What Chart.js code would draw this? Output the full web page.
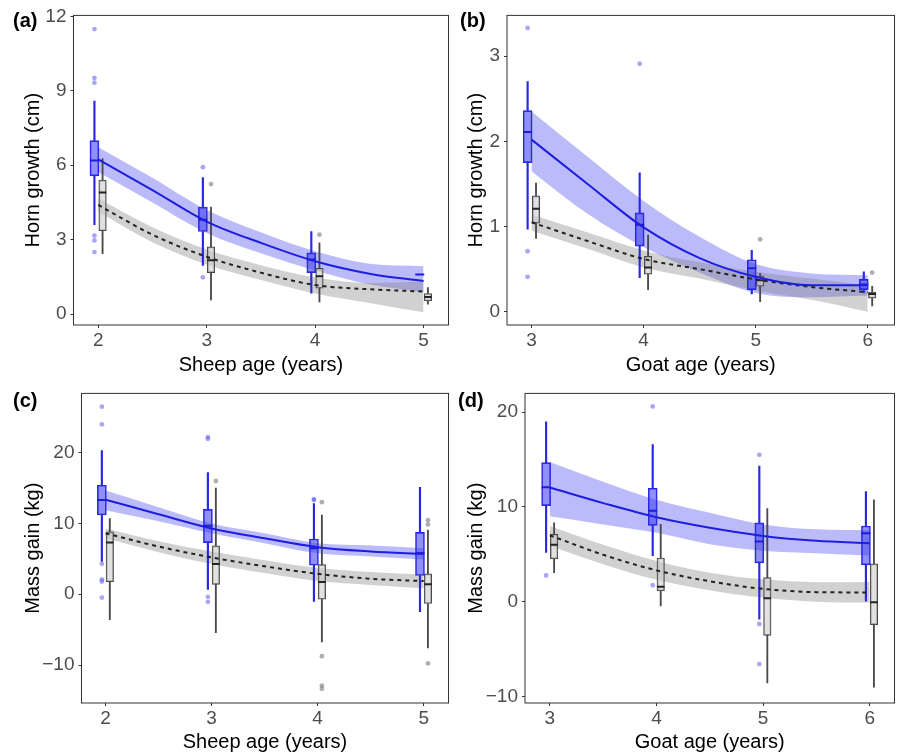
<!DOCTYPE html>
<html>
<head>
<meta charset="utf-8">
<script src="https://cdn.jsdelivr.net/npm/chart.js@4.4.1/dist/chart.umd.min.js"></script>
<style>
  html, body { margin: 0; padding: 0; background: #fff; }
  #wrap { position: relative; width: 901px; height: 754px; }
  canvas { position: absolute; }
</style>
</head>
<body>
<div id="wrap">
  <canvas id="pa" width="455" height="378" style="left:0;top:0"></canvas>
  <canvas id="pb" width="446" height="378" style="left:455px;top:0"></canvas>
  <canvas id="pc" width="455" height="376" style="left:0;top:378px"></canvas>
  <canvas id="pd" width="446" height="376" style="left:455px;top:378px"></canvas>
</div>
<script>
// ages on the x axes and the x values where the fitted curves were read
var sheepAge = [2, 3, 4, 5];
var goatAge = [3, 4, 5, 6];
var sheepFitX = [2, 2.5, 3, 3.5, 4, 4.5, 5];
var goatFitX = [3, 3.5, 4, 4.5, 5, 5.5, 6];

// y tick values
var hornSheepTicks = [0, 3, 6, 9, 12];
var hornGoatTicks = [0, 1, 2, 3];
var massTicks = [-10, 0, 10, 20];

// box rows: [whisker low, q1, median, q3, whisker high], one per age
// (a) horn growth, sheep
var hornSheepBlueBox = [[3.6, 5.57, 6.19, 6.99, 8.59], [1.96, 3.33, 3.8, 4.31, 5.5], [0.84, 1.67, 2.2, 2.47, 3.33], [1.6, 1.6, 1.6, 1.6, 1.6]];
var hornSheepGreyBox = [[2.44, 3.36, 4.9, 5.4, 6.27], [0.57, 1.67, 2.17, 2.71, 4.31], [0.49, 1.04, 1.53, 1.84, 2.87], [0.4, 0.53, 0.69, 0.83, 1.07]];
var hornSheepBlueOut = [[2, 11.49], [2, 9.52], [2, 9.33], [2, 3.16], [2, 2.97], [2, 2.5], [3, 5.92], [3, 1.48]];
var hornSheepGreyOut = [[3, 5.24], [4, 3.2]];
var hornSheepBlueFit = [6.24, 5.0, 3.73, 2.87, 2.13, 1.63, 1.33];
var hornSheepBlueUpper = [6.73, 5.5, 4.2, 3.3, 2.53, 2.03, 1.93];
var hornSheepBlueLower = [5.73, 4.5, 3.27, 2.45, 1.76, 1.2, 0.88];
var hornSheepGreyFit = [4.4, 3.2, 2.31, 1.67, 1.17, 1.0, 0.91];
var hornSheepGreyUpper = [4.67, 3.5, 2.6, 1.97, 1.47, 1.25, 1.3];
var hornSheepGreyLower = [4.13, 2.9, 2.0, 1.37, 0.83, 0.45, 0.07];

// (b) horn growth, goats
var hornGoatBlueBox = [[0.97, 1.75, 2.11, 2.36, 2.7], [0.4, 0.77, 1.02, 1.16, 1.63], [0.21, 0.26, 0.51, 0.61, 0.72], [0.22, 0.26, 0.32, 0.38, 0.47]];
var hornGoatGreyBox = [[0.86, 1.04, 1.21, 1.36, 1.51], [0.26, 0.44, 0.52, 0.65, 0.9], [0.12, 0.3, 0.37, 0.42, 0.45], [0.07, 0.16, 0.21, 0.23, 0.3]];
var hornGoatBlueOut = [[3, 3.33], [3, 0.71], [3, 0.41], [4, 2.91]];
var hornGoatGreyOut = [[5, 0.85], [6, 0.46]];
var hornGoatBlueFit = [2.02, 1.5, 0.99, 0.63, 0.41, 0.31, 0.31];
var hornGoatBlueUpper = [2.35, 1.82, 1.3, 0.88, 0.56, 0.45, 0.43];
var hornGoatBlueLower = [1.65, 1.15, 0.76, 0.46, 0.22, 0.17, 0.19];
var hornGoatGreyFit = [1.05, 0.83, 0.62, 0.5, 0.38, 0.29, 0.23];
var hornGoatGreyUpper = [1.14, 0.93, 0.72, 0.58, 0.47, 0.39, 0.31];
var hornGoatGreyLower = [0.95, 0.74, 0.52, 0.39, 0.25, 0.14, 0.0];

// (c) mass gain, sheep
var massSheepBlueBox = [[4.65, 11.2, 13.3, 15.4, 20.3], [0.7, 7.3, 9.67, 12.0, 17.2], [-1.0, 4.1, 6.5, 7.8, 12.8], [-2.47, 2.65, 5.81, 8.74, 15.1]];
var massSheepGreyBox = [[-3.6, 1.77, 7.3, 8.8, 10.7], [-5.44, 1.4, 4.28, 6.84, 15.0], [-6.74, -0.7, 1.72, 4.19, 11.2], [-7.58, -1.3, 1.4, 2.88, 9.07]];
var massSheepBlueOut = [[2, 26.5], [2, 24.0], [2, 4.3], [2, 2.1], [2, 1.8], [2, -0.47], [3, 22.2], [3, 21.95], [3, -0.37], [3, -1.07], [4, 13.45], [4, 13.3]];
var massSheepGreyOut = [[3, 16.0], [4, 13.0], [4, -8.74], [4, -12.9], [4, -13.35], [5, 10.47], [5, 9.86], [5, -9.77]];
var massSheepBlueFit = [13.35, 11.3, 9.3, 7.9, 6.65, 6.05, 5.7];
var massSheepBlueUpper = [14.65, 12.3, 10.0, 8.6, 7.2, 6.9, 6.5];
var massSheepBlueLower = [11.86, 10.3, 8.6, 7.2, 5.8, 5.35, 4.9];
var massSheepGreyFit = [8.6, 6.74, 5.2, 3.95, 2.88, 2.19, 1.86];
var massSheepGreyUpper = [9.3, 7.5, 6.05, 4.8, 3.72, 3.16, 2.79];
var massSheepGreyLower = [7.9, 5.95, 4.28, 3.0, 1.86, 1.3, 0.84];

// (d) mass gain, goats
var massGoatBlueBox = [[5.2, 10.13, 12.07, 14.67, 18.97], [4.86, 8.05, 9.6, 11.97, 16.58], [-1.84, 4.09, 6.35, 8.32, 14.3], [0.0, 3.88, 7.21, 7.98, 11.62]];
var massGoatGreyBox = [[3.05, 4.51, 6.0, 7.11, 8.32], [-0.45, 1.14, 1.56, 4.61, 8.15], [-8.57, -3.57, 0.35, 2.53, 9.82], [-9.02, -2.43, -0.07, 3.99, 10.75]];
var massGoatBlueOut = [[3, 2.77], [4, 20.6], [4, 1.73], [5, 15.5], [5, -2.36], [5, -6.59]];
var massGoatGreyOut = [];
var massGoatBlueFit = [12.04, 10.4, 8.91, 7.8, 6.94, 6.42, 6.17];
var massGoatBlueUpper = [14.74, 12.66, 10.75, 9.37, 8.15, 7.63, 7.53];
var massGoatBlueLower = [9.02, 8.15, 7.28, 6.07, 5.38, 5.1, 4.86];
var massGoatGreyFit = [7.0, 4.95, 3.3, 2.15, 1.35, 1.0, 0.97];
var massGoatGreyUpper = [7.98, 6.0, 4.3, 3.05, 2.35, 2.05, 2.08];
var massGoatGreyLower = [5.9, 3.95, 2.3, 1.2, 0.4, 0.0, -0.1];

Chart.defaults.font.family = '"Liberation Sans", Arial, sans-serif';
Chart.defaults.animation = false;

var BLUE_DX = -0.035;   // dodge of the blue boxes
var GREY_DX = 0.04;     // dodge of the grey boxes

var blueStyle = {
    line: 'rgb(40,40,228)', fill: 'rgba(55,55,235,0.55)', median: 'rgb(30,30,215)',
    whisker: 1.5, box: 9, order: 10,
    point: 'rgba(80,80,235,0.5)',
    band: 'rgba(30,30,240,0.30)', curve: 'rgb(30,30,225)', dash: [], curveOrder: 3
};
var greyStyle = {
    line: '#4a4a4a', fill: 'rgba(205,205,205,0.6)', median: '#222',
    whisker: 1.2, box: 7.5, order: 14,
    point: 'rgba(110,110,110,0.55)',
    band: 'rgba(128,128,128,0.36)', curve: '#222', dash: [4, 4], curveOrder: 4
};

function boxSets(ages, rows, dx, st) {
    var whisk = [], box = [], med = [];
    rows.forEach(function(r, i) {
        var x = ages[i] + dx;
        if (r[0] < r[1]) { whisk.push({x: x, y: [r[0], r[1]]}); }
        if (r[4] > r[3]) { whisk.push({x: x, y: [r[3], r[4]]}); }
        box.push({x: x, y: [r[1], r[3]]});
        med.push({x: x, y: r[2]});
    });
    return [
        {type: 'bar', data: whisk, backgroundColor: st.line, barThickness: st.whisker,
            maxBarThickness: st.whisker, grouped: false, order: st.order + 1},
        {type: 'bar', data: box, backgroundColor: st.fill, borderColor: st.line, borderWidth: 1,
            borderSkipped: false, barThickness: st.box, maxBarThickness: st.box, grouped: false, order: st.order},
        {type: 'scatter', data: med, pointStyle: 'line', pointRadius: st.box / 2,
            borderColor: st.median, borderWidth: 2, order: st.order - 1}
    ];
}

function outlierSet(points, dx, st) {
    return {
        type: 'scatter',
        data: points.map(function(p) { return {x: p[0] + dx, y: p[1]}; }),
        pointRadius: 2.4, pointBorderWidth: 0, backgroundColor: st.point, order: 1
    };
}

function curveSets(xs, fit, lower, upper, st) {
    function pts(arr) { return xs.map(function(x, i) { return {x: x, y: arr[i]}; }); }
    return [
        {type: 'line', data: pts(upper), borderColor: 'rgba(0,0,0,0)', borderWidth: 0, pointRadius: 0,
            fill: '+1', backgroundColor: st.band, cubicInterpolationMode: 'monotone', order: 20},
        {type: 'line', data: pts(lower), borderColor: 'rgba(0,0,0,0)', borderWidth: 0, pointRadius: 0,
            fill: false, cubicInterpolationMode: 'monotone', order: 20},
        {type: 'line', data: pts(fit), borderColor: st.curve, borderWidth: 2, borderDash: st.dash,
            pointRadius: 0, fill: false, cubicInterpolationMode: 'monotone', order: st.curveOrder}
    ];
}

var panelFrame = {
    id: 'panelFrame',
    afterDatasetsDraw: function(chart, args, opts) {
        var a = chart.chartArea;
        var ctx = chart.ctx;
        ctx.save();
        ctx.strokeStyle = '#333';
        ctx.lineWidth = 1;
        ctx.strokeRect(a.left, a.top, a.right - a.left, a.bottom - a.top);
        ctx.fillStyle = '#000';
        ctx.font = 'bold 20px "Liberation Sans", Arial, sans-serif';
        ctx.textBaseline = 'middle';
        ctx.textAlign = 'left';
        ctx.fillText(opts.tag, opts.tagX, opts.tagY);
        ctx.restore();
    }
};

function tickLabel(v) {
    return v < 0 ? '\u2212' + Math.abs(v) : String(v);
}

function makePanel(id, p) {
    var datasets = []
        .concat(curveSets(p.fitX, p.greyFit, p.greyLower, p.greyUpper, greyStyle))
        .concat(curveSets(p.fitX, p.blueFit, p.blueLower, p.blueUpper, blueStyle))
        .concat(boxSets(p.ages, p.greyBox, GREY_DX, greyStyle))
        .concat(boxSets(p.ages, p.blueBox, BLUE_DX, blueStyle))
        .concat([outlierSet(p.greyOut, GREY_DX, greyStyle), outlierSet(p.blueOut, BLUE_DX, blueStyle)]);

    return new Chart(document.getElementById(id), {
        type: 'scatter',
        data: {datasets: datasets},
        options: {
            responsive: false,
            devicePixelRatio: 1,
            events: [],
            layout: {padding: {left: 0, top: p.padTop, right: p.padRight, bottom: 0}},
            plugins: {
                legend: {display: false},
                tooltip: {enabled: false},
                panelFrame: {tag: p.tag, tagX: p.tagX, tagY: p.tagY}
            },
            scales: {
                x: {
                    type: 'linear', min: p.xMin, max: p.xMax, offset: false,
                    afterBuildTicks: function(s) { s.ticks = p.ages.map(function(v) { return {value: v}; }); },
                    afterFit: function(s) { s.height = p.xAxisH; },
                    ticks: {font: {size: 19}, color: '#4d4d4d', padding: 1, maxRotation: 0, autoSkip: false,
                        callback: tickLabel},
                    grid: {display: true, offset: false, drawOnChartArea: false, drawTicks: true, tickLength: 3, color: '#333'},
                    border: {display: false},
                    title: {display: true, text: p.xTitle, color: '#000', font: {size: 20},
                        padding: {top: 0, bottom: p.xTitlePad}}
                },
                y: {
                    type: 'linear', min: p.yMin, max: p.yMax,
                    afterBuildTicks: function(s) { s.ticks = p.yTicks.map(function(v) { return {value: v}; }); },
                    afterFit: function(s) { s.width = p.yAxisW; },
                    ticks: {font: {size: 19}, color: '#4d4d4d', padding: 4, autoSkip: false, callback: tickLabel},
                    grid: {display: true, offset: false, drawOnChartArea: false, drawTicks: true, tickLength: 3, color: '#333'},
                    border: {display: false},
                    title: {display: true, text: p.yTitle, color: '#000', font: {size: 20},
                        padding: {top: p.yTitlePad, bottom: 0}}
                }
            }
        },
        plugins: [panelFrame]
    });
}

makePanel('pa', {
    tag: '(a)', tagX: 13, tagY: 21,
    ages: sheepAge, fitX: sheepFitX, yTicks: hornSheepTicks,
    xMin: 1.772, xMax: 5.23, yMin: -0.44, yMax: 12.04,
    padTop: 13, padRight: 2.5, xAxisH: 53, yAxisW: 73.5, xTitlePad: 1, yTitlePad: 21,
    xTitle: 'Sheep age (years)', yTitle: 'Horn growth (cm)',
    blueBox: hornSheepBlueBox, greyBox: hornSheepGreyBox, blueOut: hornSheepBlueOut, greyOut: hornSheepGreyOut,
    blueFit: hornSheepBlueFit, blueUpper: hornSheepBlueUpper, blueLower: hornSheepBlueLower,
    greyFit: hornSheepGreyFit, greyUpper: hornSheepGreyUpper, greyLower: hornSheepGreyLower
});

makePanel('pb', {
    tag: '(b)', tagX: 5, tagY: 21,
    ages: goatAge, fitX: goatFitX, yTicks: hornGoatTicks,
    xMin: 2.781, xMax: 6.239, yMin: -0.155, yMax: 3.477,
    padTop: 13, padRight: 4, xAxisH: 53, yAxisW: 52, xTitlePad: 1, yTitlePad: 9,
    xTitle: 'Goat age (years)', yTitle: 'Horn growth (cm)',
    blueBox: hornGoatBlueBox, greyBox: hornGoatGreyBox, blueOut: hornGoatBlueOut, greyOut: hornGoatGreyOut,
    blueFit: hornGoatBlueFit, blueUpper: hornGoatBlueUpper, blueLower: hornGoatBlueLower,
    greyFit: hornGoatGreyFit, greyUpper: hornGoatGreyUpper, greyLower: hornGoatGreyLower
});

makePanel('pc', {
    tag: '(c)', tagX: 13, tagY: 23,
    ages: sheepAge, fitX: sheepFitX, yTicks: massTicks,
    xMin: 1.773, xMax: 5.234, yMin: -15.36, yMax: 28.37,
    padTop: 11, padRight: 2.5, xAxisH: 51, yAxisW: 81.5, xTitlePad: 0, yTitlePad: 21,
    xTitle: 'Sheep age (years)', yTitle: 'Mass gain (kg)',
    blueBox: massSheepBlueBox, greyBox: massSheepGreyBox, blueOut: massSheepBlueOut, greyOut: massSheepGreyOut,
    blueFit: massSheepBlueFit, blueUpper: massSheepBlueUpper, blueLower: massSheepBlueLower,
    greyFit: massSheepGreyFit, greyUpper: massSheepGreyUpper, greyLower: massSheepGreyLower
});

makePanel('pd', {
    tag: '(d)', tagX: 3, tagY: 23,
    ages: goatAge, fitX: goatFitX, yTicks: massTicks,
    xMin: 2.767, xMax: 6.233, yMin: -10.7, yMax: 21.98,
    padTop: 11, padRight: 4, xAxisH: 51, yAxisW: 70, xTitlePad: 0, yTitlePad: 9,
    xTitle: 'Goat age (years)', yTitle: 'Mass gain (kg)',
    blueBox: massGoatBlueBox, greyBox: massGoatGreyBox, blueOut: massGoatBlueOut, greyOut: massGoatGreyOut,
    blueFit: massGoatBlueFit, blueUpper: massGoatBlueUpper, blueLower: massGoatBlueLower,
    greyFit: massGoatGreyFit, greyUpper: massGoatGreyUpper, greyLower: massGoatGreyLower
});
</script>
</body>
</html>
